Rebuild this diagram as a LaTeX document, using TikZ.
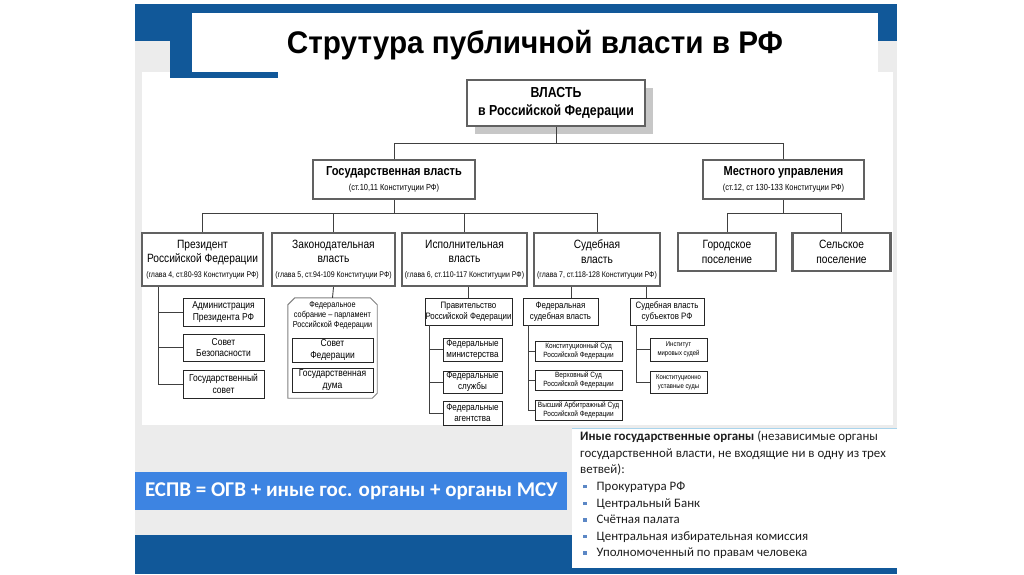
\documentclass[tikz,border=0pt]{standalone}
\usepackage{fontspec}
\usepackage{graphicx}
\usetikzlibrary{shadows}
\setmainfont{Liberation Sans}
\newfontfamily\nar[FakeStretch=0.85]{Liberation Sans}
\newfontfamily\titlefont[FakeStretch=0.95]{Liberation Sans}
\newfontfamily\calfont{Carlito}
\newcommand{\fsz}[2]{\fontsize{#1}{#2}\selectfont}
\definecolor{dblue}{HTML}{115899}
\definecolor{lblue}{HTML}{3D84E2}
\definecolor{slidegrey}{HTML}{ECECEC}
\definecolor{infoline}{HTML}{A9D4EC}
\definecolor{bulc}{HTML}{5B87C5}
\begin{document}
\begin{tikzpicture}[x=1pt,y=-1pt,
  bigbox/.style={draw=black!62, line width=2.4pt, fill=white, inner sep=1pt, align=center, font=\nar\fsz{12}{14.5}},
  leaf/.style={draw=black!85, line width=0.9pt, fill=white, inner sep=0.5pt, align=center, font=\nar\fsz{10}{11.5}},
  conn/.style={draw=black!75, line width=0.9pt}]
\useasboundingbox (0,0) rectangle (1024,574);
% slide background
\fill[white] (0,0) rectangle (1024,574);
\fill[slidegrey] (135,40) rectangle (897,574);
\fill[white] (142,72) rectangle (893,425);
\fill[dblue] (135,4) rectangle (897,41);
\fill[dblue] (170,4) rectangle (192,78);
\fill[dblue] (170,72) rectangle (278,78);
\fill[white] (192,13) rectangle (878,72);
\node[inner sep=0pt] (title) at (535,45) {\resizebox{496pt}{!}{\titlefont\bfseries Струтура публичной власти в РФ}};
% bottom bands
\fill[dblue] (135,535) rectangle (897,574);
\fill[lblue] (135,472) rectangle (567,510);
\node[anchor=west, text=white, inner sep=0pt, font=\calfont\bfseries\fsz{21}{25}] (espv) at (145,491) {ЕСПВ = ОГВ + иные гос. органы + органы МСУ};
\fill[white] (572,428) rectangle (897,568);
\draw[infoline, line width=1pt] (572,428) -- (897,428);
\node[anchor=north west, align=left, inner sep=0pt, text=black!88, font=\calfont\fsz{12.9}{16.6}] (info) at (580,431) {%
\textbf{Иные государственные органы} (независимые органы\\
государственной власти, не входящие ни в одну из трех\\
ветвей):\\
\hspace*{3pt}\textcolor{bulc}{\rule[2pt]{3.5pt}{3.5pt}}\hspace{10pt}Прокуратура РФ\\
\hspace*{3pt}\textcolor{bulc}{\rule[2pt]{3.5pt}{3.5pt}}\hspace{10pt}Центральный Банк\\
\hspace*{3pt}\textcolor{bulc}{\rule[2pt]{3.5pt}{3.5pt}}\hspace{10pt}Счётная палата\\
\hspace*{3pt}\textcolor{bulc}{\rule[2pt]{3.5pt}{3.5pt}}\hspace{10pt}Центральная избирательная комиссия\\
\hspace*{3pt}\textcolor{bulc}{\rule[2pt]{3.5pt}{3.5pt}}\hspace{10pt}Уполномоченный по правам человека};
% level 1
\node[bigbox, minimum width=178pt, minimum height=46pt, font=\nar\bfseries\fsz{14.5}{18},
  general shadow={fill=black!22, shadow xshift=8pt, shadow yshift=-8pt}] (vlast) at (556,103) {ВЛАСТЬ\\в Российской Федерации};
% level 2
\node[bigbox, minimum width=162pt, minimum height=39pt] (gos) at (394,179.5) {{\bfseries\fsz{13}{15}Государственная власть}\\{\fsz{8.8}{10}(ст.10,11 Конституции РФ)}};
\node[bigbox, minimum width=161pt, minimum height=39pt] (mest) at (783.5,179.5) {{\bfseries\fsz{13}{15}Местного управления}\\{\fsz{8.8}{10}(ст.12, ст 130-133 Конституции РФ)}};
% level 3
\node[bigbox, minimum width=121pt, minimum height=53pt] (pres) at (202.5,259.5) {Президент\\Российской Федерации\\{\fsz{8.2}{9.5}(глава 4, ст.80-93 Конституции РФ)}};
\node[bigbox, minimum width=123pt, minimum height=53pt] (zak) at (333.5,259.5) {Законодательная\\власть\\{\fsz{8.2}{9.5}(глава 5, ст.94-109 Конституции РФ)}};
\node[bigbox, minimum width=125pt, minimum height=53pt] (isp) at (464.5,259.5) {Исполнительная\\власть\\{\fsz{8.2}{9.5}(глава 6, ст.110-117 Конституции РФ)}};
\node[bigbox, minimum width=126pt, minimum height=53pt] (sud) at (597,259.5) {Судебная\\власть\\{\fsz{8.2}{9.5}(глава 7, ст.118-128 Конституции РФ)}};
\node[bigbox, minimum width=98pt, minimum height=38pt] (gor) at (727,252) {Городское\\поселение};
\node[bigbox, minimum width=98pt, minimum height=38pt] (sel) at (841.5,252) {Сельское\\поселение};
% president children
\node[leaf, minimum width=81pt, minimum height=28pt] (adm) at (223.5,312) {Администрация\\Президента РФ};
\node[leaf, minimum width=81pt, minimum height=27pt] (sb) at (223.5,347.5) {Совет\\Безопасности};
\node[leaf, minimum width=81pt, minimum height=28pt] (gs) at (223.5,384) {Государственный\\совет};
% federal assembly
\node[minimum width=89pt, minimum height=100pt, inner sep=0pt] (fasm) at (332.5,348) {};
\draw[black!50, line width=0.9pt] ([yshift=-7pt]fasm.north west) -- ([xshift=7pt]fasm.north west) -- ([xshift=-7pt]fasm.north east) -- ([yshift=-7pt]fasm.north east) -- ([yshift=5pt]fasm.south east) -- ([xshift=-5pt]fasm.south east) -- (fasm.south west) -- cycle;
\node[align=center, inner sep=0pt, font=\nar\fsz{8.6}{10}] (fasmt) at (332.5,315) {Федеральное\\собрание – парламент\\Российской Федерации};
\node[leaf, minimum width=81pt, minimum height=24pt] (sf) at (332.5,350) {Совет\\Федерации};
\node[leaf, minimum width=81pt, minimum height=24pt] (gd) at (332.5,380) {Государственная\\дума};
% executive
\node[leaf, minimum width=87pt, minimum height=27pt, font=\nar\fsz{9.3}{11}] (prav) at (468.5,311.5) {Правительство\\Российской Федерации};
\node[leaf, minimum width=59pt, minimum height=23pt, font=\nar\fsz{9.5}{11}] (fmin) at (472.5,349.5) {Федеральные\\министерства};
\node[leaf, minimum width=59pt, minimum height=22pt, font=\nar\fsz{9.5}{11}] (fsl) at (472.5,382) {Федеральные\\службы};
\node[leaf, minimum width=59pt, minimum height=24pt, font=\nar\fsz{9.5}{11}] (fag) at (472.5,413) {Федеральные\\агентства};
% judicial
\node[leaf, minimum width=75pt, minimum height=27pt, font=\nar\fsz{9.3}{11}] (fsv) at (560.5,311.5) {Федеральная\\судебная власть};
\node[leaf, minimum width=87pt, minimum height=20pt, font=\nar\fsz{7.6}{9}] (ks) at (578.5,351) {Конституционный Суд\\Российской Федерации};
\node[leaf, minimum width=87pt, minimum height=20pt, font=\nar\fsz{7.6}{9}] (vs) at (578.5,380) {Верховный Суд\\Российской Федерации};
\node[leaf, minimum width=87pt, minimum height=20pt, font=\nar\fsz{7.6}{9}] (vas) at (578.5,410) {Высший Арбитражный Суд\\Российской Федерации};
\node[leaf, minimum width=74pt, minimum height=27pt, font=\nar\fsz{9.3}{11}] (ssub) at (667,311.5) {Судебная власть\\субъектов РФ};
\node[leaf, minimum width=57pt, minimum height=23pt, font=\nar\fsz{7}{9}] (inst) at (678.5,349.5) {Институт\\мировых судей};
\node[leaf, minimum width=57pt, minimum height=22pt, font=\nar\fsz{7}{9}] (ku) at (678.5,382) {Конституционно\\уставные суды};
% junction coordinates
\coordinate (j0) at (0,143);
\coordinate (j1) at (0,213);
\coordinate (xp) at (158,0);
\coordinate (xq) at (429,0);
\coordinate (xs1) at (571,0);
\coordinate (xs2) at (646,0);
\coordinate (xf) at (528,0);
\coordinate (xr) at (636,0);
% connectors
\draw[conn] (vlast.south) -- (vlast.south |- j0);
\draw[conn] (gos.north) -- (gos.north |- j0) -- (mest.north |- j0) -- (mest.north);
\draw[conn] (gos.south) -- (gos.south |- j1);
\draw[conn] (pres.north) -- (pres.north |- j1) -- (sud.north |- j1) -- (sud.north);
\draw[conn] (zak.north) -- (zak.north |- j1);
\draw[conn] (isp.north) -- (isp.north |- j1);
\draw[conn] (mest.south) -- (mest.south |- j1);
\draw[conn] (gor.north) -- (gor.north |- j1) -- (sel.north |- j1) -- (sel.north);
\draw[conn] (pres.south -| xp) -- (gs.west -| xp) -- (gs.west);
\draw[conn] (adm.west -| xp) -- (adm.west);
\draw[conn] (sb.west -| xp) -- (sb.west);
\draw[conn] (zak.south) -- (fasm.north);
\draw[conn] (isp.south -| prav.north) -- (prav.north);
\draw[conn] (prav.south -| xq) -- (fag.west -| xq) -- (fag.west);
\draw[conn] (fmin.west -| xq) -- (fmin.west);
\draw[conn] (fsl.west -| xq) -- (fsl.west);
\draw[conn] (sud.south -| xs1) -- (fsv.north -| xs1);
\draw[conn] (sud.south -| xs2) -- (ssub.north -| xs2);
\draw[conn] (fsv.south -| xf) -- (vas.west -| xf) -- (vas.west);
\draw[conn] (ks.west -| xf) -- (ks.west);
\draw[conn] (vs.west -| xf) -- (vs.west);
\draw[conn] (ssub.south -| xr) -- (ku.west -| xr) -- (ku.west);
\draw[conn] (inst.west -| xr) -- (inst.west);
\end{tikzpicture}
\end{document}
